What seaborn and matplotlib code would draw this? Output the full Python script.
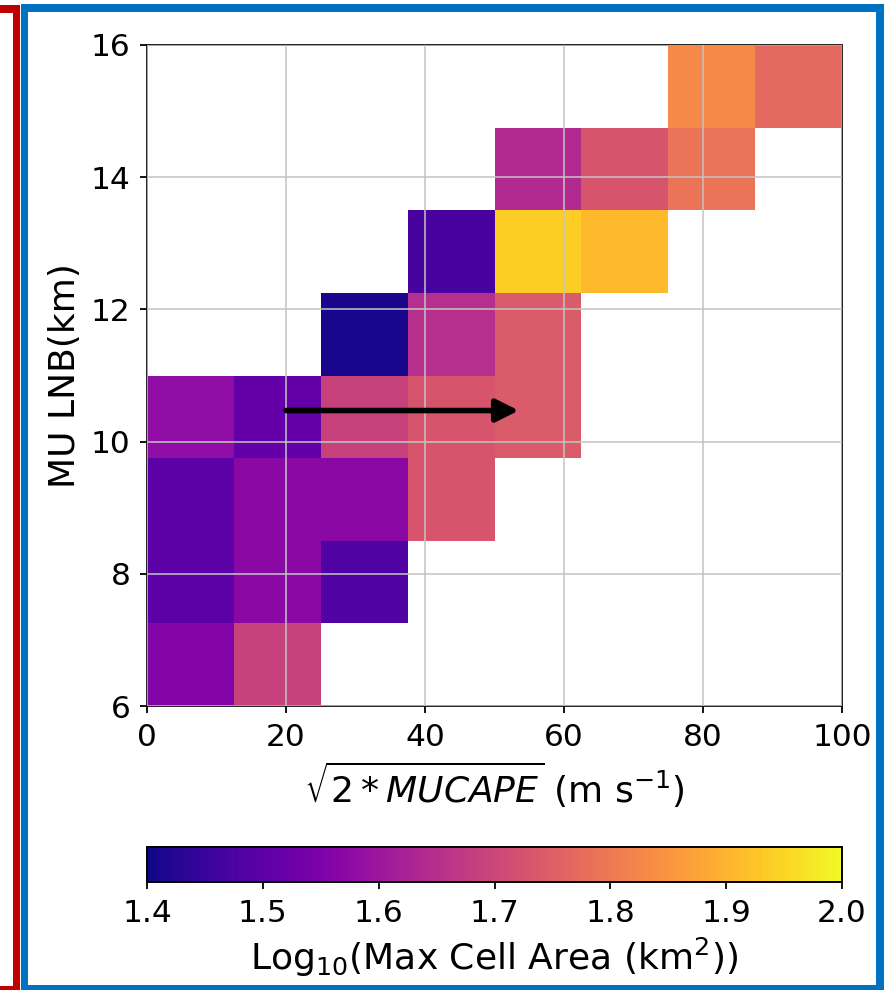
import numpy as np
import matplotlib
matplotlib.use("Agg")
import matplotlib.pyplot as plt
from matplotlib.patches import Rectangle
import seaborn as sns

# Bin edges of the 2-D composite
cape_edges = [0, 12.5, 25, 37.5, 50, 62.5, 75, 87.5, 100]
lnb_edges = [6, 7.25, 8.5, 9.75, 11, 12.25, 13.5, 14.75, 16]

# Bin centres
cape_centers = [6.25, 18.75, 31.25, 43.75, 56.25, 68.75, 81.25, 93.75]
lnb_centers = [6.625, 7.875, 9.125, 10.375, 11.625, 12.875, 14.125, 15.375]

# log10 of max cell area per bin, one row per LNB bin (bottom to top); None = no data
row_6_7 = [1.56, 1.69, None, None, None, None, None, None]
row_7_8 = [1.50, 1.57, 1.48, None, None, None, None, None]
row_8_9 = [1.50, 1.57, 1.57, 1.73, None, None, None, None]
row_9_11 = [1.58, 1.51, 1.69, 1.73, 1.74, None, None, None]
row_11_12 = [None, None, 1.41, 1.65, 1.74, None, None, None]
row_12_13 = [None, None, None, 1.47, 1.94, 1.91, None, None]
row_13_14 = [None, None, None, None, 1.64, 1.73, 1.79, None]
row_14_16 = [None, None, None, None, None, None, 1.83, 1.77]
rows = [row_6_7, row_7_8, row_8_9, row_9_11, row_11_12, row_12_13, row_13_14, row_14_16]

# Shift arrow
arrow_start = (20, 10.47)
arrow_end = (53.5, 10.47)

cbar_ticks = [1.4, 1.5, 1.6, 1.7, 1.8, 1.9, 2.0]

xs, ys, ws = [], [], []
for j, row in enumerate(rows):
    for i, v in enumerate(row):
        if v is not None:
            xs.append(cape_centers[i])
            ys.append(lnb_centers[j])
            ws.append(v)

W, H = 896, 990
fig = plt.figure(figsize=(W / 100, H / 100), dpi=100)
plt.rcParams["font.family"] = ["DejaVu Sans"]

TICK_FS = 22.5
LABEL_FS = 26


def px_rect(x0, y0, x1, y1):
    return [x0 / W, 1 - y1 / H, (x1 - x0) / W, (y1 - y0) / H]


ax = fig.add_axes(px_rect(147, 45, 842, 706))
cax = fig.add_axes(px_rect(147, 847, 842, 882))

sns.histplot(
    x=xs, y=ys, weights=ws, bins=[cape_edges, lnb_edges],
    cmap="plasma", vmin=1.4, vmax=2.0,
    cbar=True, cbar_ax=cax, cbar_kws={"orientation": "horizontal"},
    ax=ax,
)

ax.set_xlim(0, 100)
ax.set_ylim(6, 16)
ax.set_xticks([0, 20, 40, 60, 80, 100])
ax.set_yticks([6, 8, 10, 12, 14, 16])
ax.set_axisbelow(False)
ax.grid(True, color="#c4c4c4", alpha=0.85, linewidth=1.3)
for s in ax.spines.values():
    s.set_linewidth(1.4)
    s.set_color("#222222")
ax.tick_params(labelsize=TICK_FS, length=5, width=1.3, pad=7)
ax.set_xlabel(r"$\sqrt{2*MUCAPE}$ (m s$^{-1}$)", fontsize=LABEL_FS, labelpad=6)
ax.set_ylabel("MU LNB(km)", fontsize=LABEL_FS, labelpad=6)

ax.annotate(
    "", xy=arrow_end, xytext=arrow_start,
    arrowprops=dict(arrowstyle="-|>", lw=4, color="black",
                    mutation_scale=34, shrinkA=0, shrinkB=0),
    zorder=5,
)

cbar = ax.collections[0].colorbar
cbar.set_ticks(cbar_ticks)
cbar.set_ticklabels([f"{t:.1f}" for t in cbar_ticks])
cbar.ax.tick_params(labelsize=TICK_FS, length=5, width=1.3, pad=7)
cbar.outline.set_linewidth(1.4)
cbar.set_label(r"Log$_{10}$(Max Cell Area (km$^2$))", fontsize=LABEL_FS, labelpad=6)

# Panel frames
red = "#c00000"
blue = "#0070c0"
for r in [(13, 5, 20, 990), (0, 5, 20, 12.5), (0, 986, 13, 990)]:
    fig.add_artist(Rectangle(px_rect(*r)[:2], *px_rect(*r)[2:],
                             transform=fig.transFigure, color=red, lw=0))
for r in [(20.5, 4, 28, 990), (20.5, 4, 884, 12), (876, 4, 884, 990), (20.5, 985, 884, 990)]:
    fig.add_artist(Rectangle(px_rect(*r)[:2], *px_rect(*r)[2:],
                             transform=fig.transFigure, color=blue, lw=0))

fig.savefig("out.png", dpi=100, facecolor="white")
